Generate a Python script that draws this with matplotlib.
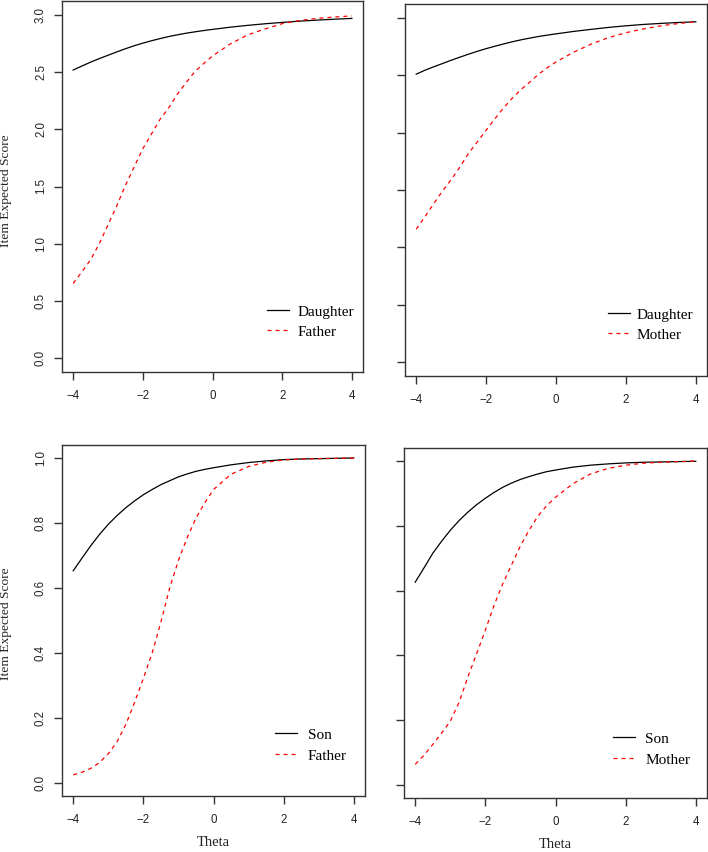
import matplotlib
matplotlib.use("Agg")
import matplotlib.pyplot as plt

# ---------------- data ----------------
theta = [-4, -3.75, -3.5, -3.25, -3, -2.75, -2.5, -2.25, -2, -1.75, -1.5, -1.25,
         -1, -0.75, -0.5, -0.25, 0, 0.5, 1, 1.5, 2, 2.5, 3, 3.5, 4]

# Top-left: Daughter vs Father
daughter_tl = [2.517, 2.552, 2.586, 2.617, 2.646, 2.675, 2.703, 2.729, 2.752, 2.773, 2.792, 2.810,
               2.825, 2.839, 2.851, 2.862, 2.872, 2.891, 2.907, 2.921, 2.933, 2.944, 2.953, 2.961, 2.968]
father_tl = [0.653, 0.754, 0.86, 1.0, 1.165, 1.33, 1.51, 1.67, 1.83, 1.96, 2.09, 2.19,
             2.31, 2.41, 2.505, 2.575, 2.64, 2.743, 2.823, 2.875, 2.922, 2.950, 2.968, 2.980, 2.990]

# Top-right: Daughter vs Mother
daughter_tr = [2.509, 2.543, 2.573, 2.601, 2.630, 2.657, 2.683, 2.708, 2.731, 2.752, 2.772, 2.791,
               2.808, 2.823, 2.837, 2.849, 2.860, 2.881, 2.899, 2.916, 2.930, 2.942, 2.951, 2.959, 2.965]
mother_tr = [1.158, 1.267, 1.38, 1.49, 1.59, 1.70, 1.82, 1.92, 2.02, 2.12, 2.215, 2.30,
             2.375, 2.44, 2.508, 2.565, 2.615, 2.70, 2.77, 2.827, 2.87, 2.903, 2.93, 2.95, 2.965]

# Bottom-left: Son vs Father
son_bl = [0.653, 0.692, 0.730, 0.765, 0.796, 0.823, 0.847, 0.868, 0.887, 0.903, 0.918, 0.930,
          0.942, 0.951, 0.959, 0.965, 0.970, 0.979, 0.986, 0.991, 0.995, 0.997, 0.998, 0.999, 1.0]
father_bl = [0.025, 0.033, 0.045, 0.063, 0.09, 0.127, 0.18, 0.248, 0.322, 0.40, 0.495, 0.60,
             0.685, 0.755, 0.815, 0.862, 0.903, 0.95, 0.974, 0.987, 0.994, 0.997, 0.998, 0.999, 1.0]

# Bottom-right: Son vs Mother
son_br = [0.626, 0.670, 0.715, 0.752, 0.786, 0.816, 0.842, 0.865, 0.885, 0.903, 0.919, 0.932,
          0.943, 0.952, 0.960, 0.967, 0.972, 0.981, 0.987, 0.991, 0.994, 0.996, 0.997, 0.998, 0.999]
mother_br = [0.064, 0.092, 0.125, 0.16, 0.197, 0.255, 0.333, 0.405, 0.478, 0.555, 0.622, 0.68,
             0.738, 0.787, 0.83, 0.862, 0.888, 0.930, 0.960, 0.977, 0.987, 0.993, 0.996, 0.998, 1.0]

x_ticks = [-4, -2, 0, 2, 4]
y_ticks_top = [0.0, 0.5, 1.0, 1.5, 2.0, 2.5, 3.0]
y_ticks_bot = [0.0, 0.2, 0.4, 0.6, 0.8, 1.0]

ylabel = "Item Expected Score"
xlabel = "Theta"

# ---------------- figure ----------------
W, H = 708, 852
fig = plt.figure(figsize=(W / 100, H / 100), dpi=100)

SANS = ["Liberation Sans", "DejaVu Sans"]
SERIF = ["Liberation Serif", "DejaVu Serif"]


def ax_at(x0, y0, x1, y1):
    return fig.add_axes([x0 / W, 1 - y1 / H, (x1 - x0) / W, (y1 - y0) / H])


panels = [
    dict(box=(62, 1, 363, 372), ytk=y_ticks_top, ylim=(0, 3), showy=True, showx_lab=False,
         series=[(daughter_tl, "Daughter"), (father_tl, "Father")],
         leg=(0.682, 0.181, 0.52, 0.42)),
    dict(box=(405, 4, 707, 376), ytk=y_ticks_top, ylim=(0, 3), showy=False, showx_lab=False,
         series=[(daughter_tr, "Daughter"), (mother_tr, "Mother")],
         leg=(0.672, 0.183, 0.40, 0.42)),
    dict(box=(62, 445, 365, 796), ytk=y_ticks_bot, ylim=(0, 1), showy=True, showx_lab=True,
         series=[(son_bl, "Son"), (father_bl, "Father")],
         leg=(0.703, 0.194, 0.72, 0.48)),
    dict(box=(404, 448, 707, 798), ytk=y_ticks_bot, ylim=(0, 1), showy=False, showx_lab=True,
         series=[(son_br, "Son"), (mother_br, "Mother")],
         leg=(0.689, 0.189, 0.70, 0.48)),
]

for p in panels:
    ax = ax_at(*p["box"])
    (v1, l1), (v2, l2) = p["series"]
    ax.plot(theta, v1, color="black", lw=0.9, label=l1)
    ax.plot(theta, v2, color="red", lw=0.9, linestyle=(0, (3.2, 3.2)), label=l2)

    lo, hi = p["ylim"]
    r = hi - lo
    ax.set_ylim(lo - 0.04 * r, hi + 0.04 * r)
    ax.set_xlim(-4 - 0.32, 4 + 0.32)
    ax.set_xticks(x_ticks)
    ax.set_xticklabels([f"{v}".replace("-", "\u2212") for v in x_ticks],
                       fontfamily=SANS, fontsize=8.3)
    ax.set_yticks(p["ytk"])
    if p["showy"]:
        ax.set_yticklabels([f"{v:.1f}" for v in p["ytk"]], fontfamily=SANS, fontsize=8.3,
                           rotation=90, va="center")
        ax.set_ylabel(ylabel, fontfamily=SERIF, fontsize=9.7, color="#222222")
        ax.yaxis.set_label_coords(-0.165, 0.49)
    else:
        ax.set_yticklabels([])
    if p["showx_lab"]:
        ax.set_xlabel(xlabel, fontfamily=SERIF, fontsize=10.5, color="#222222")
        ax.xaxis.set_label_coords(0.5, -0.115)

    ax.tick_params(axis="both", direction="out", length=5.8, width=1.0,
                   color="#333333", labelcolor="#222222")
    ax.tick_params(axis="x", pad=7)
    ax.tick_params(axis="y", pad=5)
    for s in ax.spines.values():
        s.set_color("#333333")
        s.set_linewidth(1.0)

    lx, ly, htp, lsp = p["leg"]
    ax.legend(loc="upper left", bbox_to_anchor=(lx, ly), frameon=False,
              borderpad=0, borderaxespad=0, handlelength=1.44, handletextpad=htp,
              labelspacing=lsp, prop=dict(family=SERIF, size=11))

fig.savefig("out.png", dpi=100)
